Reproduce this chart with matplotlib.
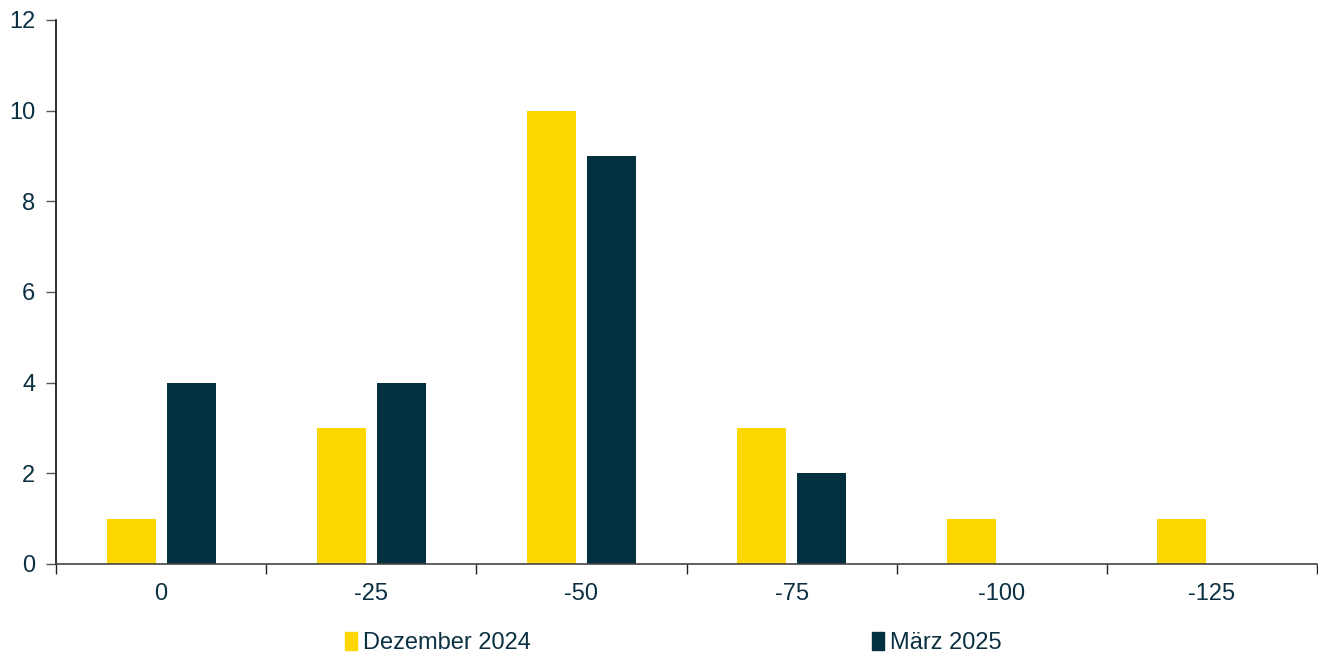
import numpy as np
import matplotlib
matplotlib.use("Agg")
import matplotlib.pyplot as plt
from matplotlib.patches import Patch

# data
categories = ["0", "-25", "-50", "-75", "-100", "-125"]
dez_2024 = [1, 3, 10, 3, 1, 1]
maerz_2025 = [4, 4, 9, 2, 0, 0]
series_names = ["Dezember 2024", "März 2025"]

YELLOW = "#FFD700"
DARK = "#03303F"
TEXT = "#0B3042"

plt.rcParams["font.family"] = ["Liberation Sans", "DejaVu Sans"]
plt.rcParams["font.size"] = 17

fig = plt.figure(figsize=(13.18, 6.52), dpi=100)
ax = fig.add_axes([56 / 1318, 1 - 564 / 652, 1 - 57 / 1318, (564 - 20) / 652])

x = np.arange(len(categories))
w = 0.233
off = 0.143
ax.bar(x - off, dez_2024, width=w, color=YELLOW)
ax.bar(x + off, maerz_2025, width=w, color=DARK)

ax.set_xlim(-0.5, len(categories) - 0.5)
ax.set_ylim(0, 12)
ax.set_yticks(np.arange(0, 13, 2))

# category labels centred, tick marks on category boundaries
ax.set_xticks(np.arange(-0.5, len(categories), 1.0))
ax.set_xticklabels([])
ax.set_xticks(x, minor=True)
ax.set_xticklabels(categories, minor=True)
ax.tick_params(axis="x", which="minor", length=0, pad=14, colors=TEXT)
ax.tick_params(axis="x", which="major", direction="out", length=7, width=1, color="#222222")
ax.tick_params(axis="y", direction="out", length=7, width=1, color="#555555", labelcolor=TEXT, pad=8)

for s in ["top", "right"]:
    ax.spines[s].set_visible(False)
ax.spines["left"].set_color("#111111")
ax.spines["bottom"].set_color("#444444")
ax.spines["left"].set_linewidth(1.2)
ax.spines["bottom"].set_linewidth(1.2)

handles = [Patch(color=YELLOW), Patch(color=DARK)]
fig.legend(handles, series_names, loc="center", bbox_to_anchor=(0.511, 0.014),
           ncol=2, frameon=False, handlelength=0.5, handleheight=0.8,
           handletextpad=0.25, columnspacing=14.45, labelcolor=TEXT, fontsize=17)

fig.savefig("out.png", dpi=100)
